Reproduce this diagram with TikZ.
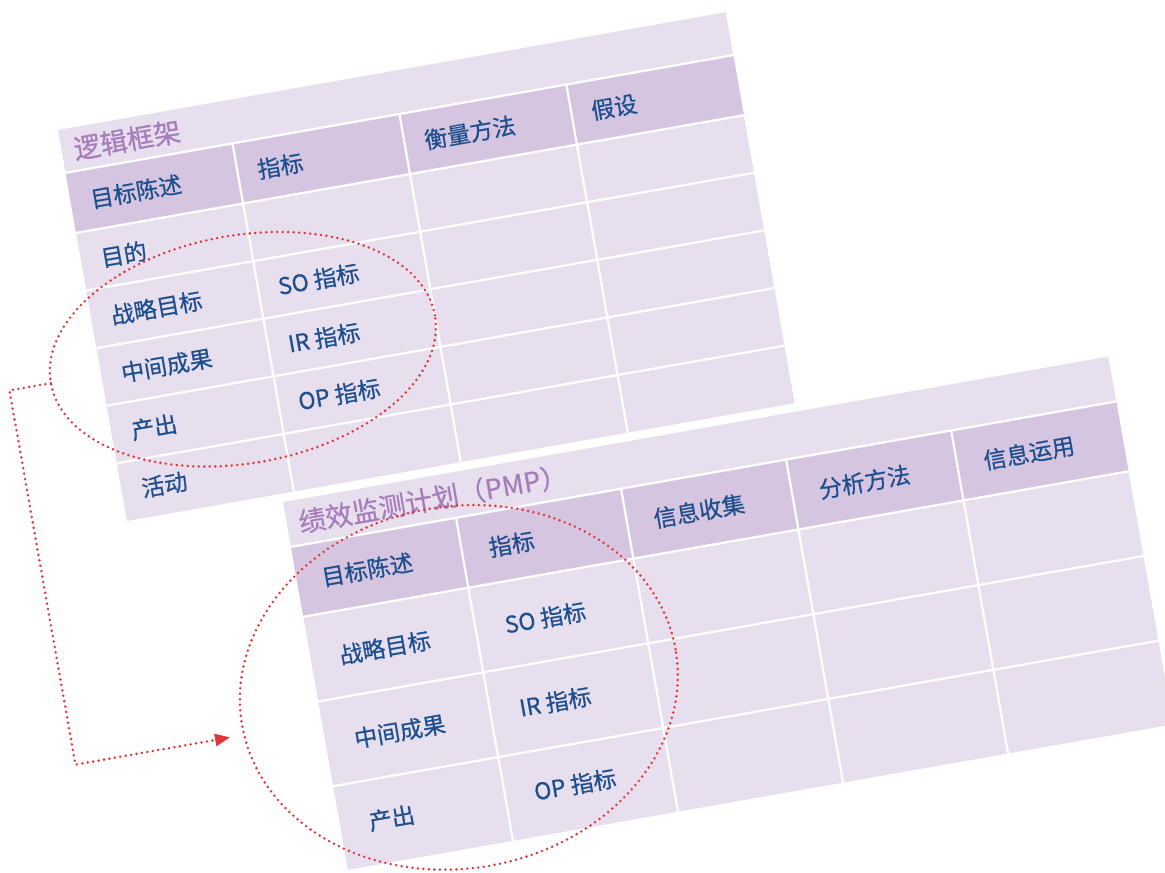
\documentclass[tikz,border=0pt]{standalone}
\usepackage{fontspec}
\setmainfont{Noto Sans CJK SC}[FakeBold=0.6]
\usepackage{tikz}
\usetikzlibrary{shapes.geometric}
\usetikzlibrary{positioning}
\usetikzlibrary{arrows.meta}
\definecolor{cellbg}{HTML}{E7DFEE}
\definecolor{headbg}{HTML}{D6C5E0}
\definecolor{titlepurple}{HTML}{A77CBB}
\definecolor{textblue}{HTML}{1D4E8D}
\definecolor{markred}{HTML}{E0383A}

\begin{document}
\begin{tikzpicture}[x=1pt,y=1pt,
	grid/.style={white,line width=2.2pt},
	caption/.style={anchor=west,inner sep=0pt,text=titlepurple,font=\fontsize{27pt}{30pt}\selectfont},
	cell/.style={anchor=west,inner sep=0pt,text=textblue,font=\fontsize{23pt}{26pt}\selectfont},
	ring/.style={ellipse,draw=markred,line width=2.8pt,dash pattern=on 0pt off 5.5pt,line cap=round,inner sep=0pt,outer sep=0pt},
	flow/.style={markred,line width=2.8pt,dash pattern=on 0pt off 5.5pt,line cap=round,-{Triangle[length=15pt,width=12pt]}}]
	\clip (0,0) rectangle (1165,-873);
	\begin{scope}[shift={(58,-130)},rotate=10,transform shape]
		% logical framework table
		\fill[cellbg] (0,0) rectangle (678,-397);
		\fill[headbg] (0,-43.5) rectangle (678,-104.5);
		\draw[grid] (0,-43.5) -- (678,-43.5);
		\draw[grid] (0,-104.5) -- (678,-104.5);
		\draw[grid] (0,-163) -- (678,-163);
		\draw[grid] (0,-221.5) -- (678,-221.5);
		\draw[grid] (0,-280) -- (678,-280);
		\draw[grid] (0,-338.5) -- (678,-338.5);
		\draw[grid] (169.5,-43.5) -- (169.5,-397);
		\draw[grid] (339,-43.5) -- (339,-397);
		\draw[grid] (508.5,-43.5) -- (508.5,-397);
		\node[caption] (lfTitle) at (12,-21.75) {逻辑框架};
		\node[cell] (lfHeadGoal) at (20,-74) {目标陈述};
		\node[cell] (lfHeadInd) at (189.5,-74) {指标};
		\node[cell] (lfHeadMeas) at (359,-74) {衡量方法};
		\node[cell] (lfHeadAssum) at (528.5,-74) {假设};
		\node[cell] (lfGoal) at (20,-133.75) {目的};
		\node[cell] (lfSO) at (20,-192.25) {战略目标};
		\node[cell] (lfIR) at (20,-250.75) {中间成果};
		\node[cell] (lfOP) at (20,-309.25) {产出};
		\node[cell] (lfAct) at (20,-367.75) {活动};
		\node[cell] (lfSOInd) at (189.5,-192.25) {SO 指标};
		\node[cell] (lfIRInd) at (189.5,-250.75) {IR 指标};
		\node[cell] (lfOPInd) at (189.5,-309.25) {OP 指标};
		\node[ring,minimum width=390pt,minimum height=228pt] (lfRing) at (144,-248) {};
		% performance monitoring plan table
		\begin{scope}[shift={(157,-405.5)}]
			\fill[cellbg] (0,0) rectangle (838,-373.5);
			\fill[headbg] (0,-45.5) rectangle (838,-116.5);
			\draw[grid] (0,-45.5) -- (838,-45.5);
			\draw[grid] (0,-116.5) -- (838,-116.5);
			\draw[grid] (0,-202.5) -- (838,-202.5);
			\draw[grid] (0,-288.5) -- (838,-288.5);
			\draw[grid] (167.6,-45.5) -- (167.6,-373.5);
			\draw[grid] (335.2,-45.5) -- (335.2,-373.5);
			\draw[grid] (502.8,-45.5) -- (502.8,-373.5);
			\draw[grid] (670.4,-45.5) -- (670.4,-373.5);
			\node[caption] (pmpTitle) at (12,-22.75) {绩效监测计划（PMP）};
			\node[cell] (pmpHeadGoal) at (25,-81) {目标陈述};
			\node[cell] (pmpHeadInd) at (194.6,-81) {指标};
			\node[cell] (pmpHeadCollect) at (362,-81) {信息收集};
			\node[cell] (pmpHeadAnalyse) at (530,-81) {分析方法};
			\node[cell] (pmpHeadUse) at (697,-81) {信息运用};
			\node[cell] (pmpSO) at (29,-161) {战略目标};
			\node[cell] (pmpIR) at (29,-246) {中间成果};
			\node[cell] (pmpOP) at (29,-330) {产出};
			\node[cell] (pmpSOInd) at (197,-159.5) {SO 指标};
			\node[cell] (pmpIRInd) at (197,-244) {IR 指标};
			\node[cell] (pmpOPInd) at (197,-329) {OP 指标};
			\node[ring,minimum width=440pt,minimum height=362pt] (pmpRing) at (141,-213) {};
		\end{scope}
		\draw[flow] (lfRing.west) -- ++(-42,0) -- ++(0,-380) -- ++(157,0);
	\end{scope}
\end{tikzpicture}
\end{document}
